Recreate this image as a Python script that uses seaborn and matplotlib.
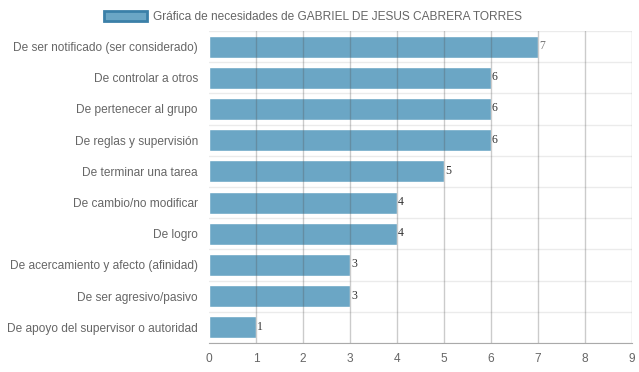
import matplotlib
matplotlib.use("Agg")
import matplotlib.pyplot as plt
import seaborn as sns
import pandas as pd
from matplotlib.patches import Patch

categories = [
    "De ser notificado (ser considerado)",
    "De controlar a otros",
    "De pertenecer al grupo",
    "De reglas y supervisión",
    "De terminar una tarea",
    "De cambio/no modificar",
    "De logro",
    "De acercamiento y afecto (afinidad)",
    "De ser agresivo/pasivo",
    "De apoyo del supervisor o autoridad",
]
values = [7, 6, 6, 6, 5, 4, 4, 3, 3, 1]
x_ticks = list(range(0, 10))
legend_label = "Gráfica de necesidades de GABRIEL DE JESUS CABRERA TORRES"

bar_color = "#6ba6c5"
edge_color = "#3b80a8"

df = pd.DataFrame({"cat": categories, "val": values})

sns.set_style("white")
plt.rcParams["font.family"] = ["Liberation Sans", "DejaVu Sans"]

fig = plt.figure(figsize=(6.39, 3.72), dpi=100)
ax = fig.add_axes([209 / 639, 29 / 372, 423 / 639, 312 / 372])

sns.barplot(data=df, x="val", y="cat", orient="y", color=bar_color,
            saturation=1, width=0.7, ax=ax, zorder=2)

ax.set_xlim(0, 9)
ax.set_ylim(len(categories) - 0.5, -0.5)
ax.set_xticks(x_ticks)
ax.set_xlabel("")
ax.set_ylabel("")

# vertical grid drawn over bars, light horizontal separators
for x in x_ticks[1:]:
    ax.axvline(x, color="#555555", alpha=0.3, lw=1, zorder=3)
for i in range(len(categories) + 1):
    ax.axhline(i - 0.5, color="#ebebeb", lw=1, zorder=1)

for s in ["top", "right", "left"]:
    ax.spines[s].set_visible(False)
ax.spines["bottom"].set_color("#aaaaaa")
ax.spines["bottom"].set_zorder(4)

ax.tick_params(axis="x", colors="#666666", labelsize=8.6, length=5,
               width=1, color="#c8c8c8", pad=2)
ax.tick_params(axis="y", colors="#666666", labelsize=8.6, length=0, pad=8)

for i, v in enumerate(values):
    ax.text(v + 0.02, i - 0.02, str(v), fontsize=8.5, family="Liberation Serif",
            color="#333333" if v != 7 else "#777777", va="center", ha="left", zorder=5)

handle = Patch(facecolor=bar_color, edgecolor=edge_color, linewidth=2)
fig.legend([handle], [legend_label], loc="upper center", bbox_to_anchor=(0.49, 1.0),
           frameon=False, fontsize=8.6, handlelength=3.6, handleheight=0.9,
           handletextpad=0.5, labelcolor="#666666")

fig.savefig("out.png", dpi=100)
